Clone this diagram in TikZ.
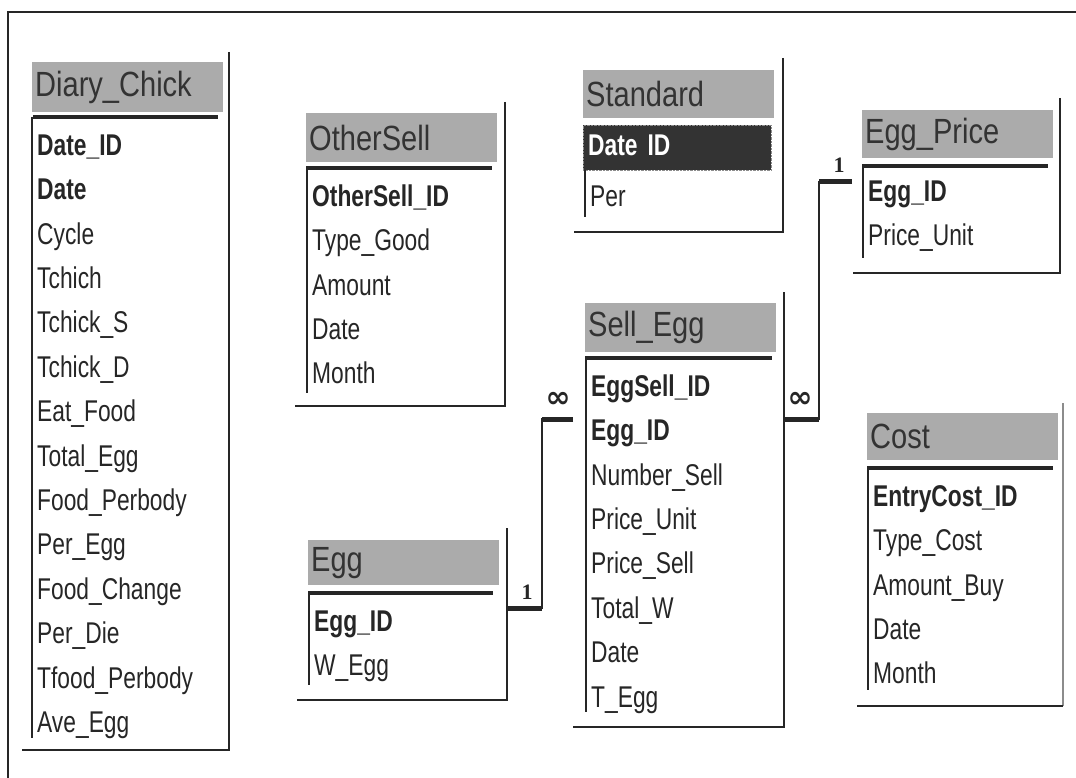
\documentclass[tikz,border=0pt]{standalone}
\usepackage{fontspec}
\setmainfont[FakeStretch=0.76]{Liberation Sans}
\newfontfamily\ttlfont[FakeStretch=0.83]{Liberation Sans}
\newfontfamily\symfont{DejaVu Sans}
\newfontfamily\numfont{Liberation Serif}
\usepackage{xcolor}
\usetikzlibrary{positioning}

\begin{document}
\begin{tikzpicture}[
  x=1pt, y=-1pt,
  ttl/.style  ={anchor=north west, fill=black!33, minimum height=48pt,
                text width=185pt, inner xsep=3pt, align=left,
                font=\ttlfont\fontsize{35}{35}\selectfont, text=black!80},
  fld/.style  ={anchor=north west, text width=175pt, align=left,
                inner xsep=5pt, inner ysep=0pt, minimum height=44pt,
                text height=22pt, text depth=6pt,
                font=\fontsize{30}{32}\selectfont, text=black!85},
  key/.style  ={fld, font=\fontsize{30}{32}\selectfont\bfseries},
  edge/.style ={draw=black!85, line width=2.4pt},
  rule/.style ={draw=black!85, line width=3.4pt},
  side/.style ={draw=black!85, line width=1.8pt},
  rel/.style  ={draw=black!85, line width=1.8pt},
  bar/.style  ={draw=black!85, line width=5pt},
  card/.style ={font=\numfont\fontsize{22}{22}\selectfont\bfseries, text=black!85},
  many/.style ={font=\symfont\fontsize{30}{30}\selectfont\bfseries, text=black!85}
]
\useasboundingbox (0,0) rectangle (1076,778);
% outer frame
\draw[side] (8,778) -- (8,12) -- (1076,12);

% Diary_Chick
\node[ttl, minimum height=50pt] (dc) at (32,62) {Diary\_Chick};
\node[key] (dc1) at (32,125) {Date\_ID};
\node[key, below=0pt of dc1]  (dc2)  {Date};
\node[fld, below=0pt of dc2]  (dc3)  {Cycle};
\node[fld, below=0pt of dc3]  (dc4)  {Tchich};
\node[fld, below=0pt of dc4]  (dc5)  {Tchick\_S};
\node[fld, below=0pt of dc5]  (dc6)  {Tchick\_D};
\node[fld, below=0pt of dc6]  (dc7)  {Eat\_Food};
\node[fld, below=0pt of dc7]  (dc8)  {Total\_Egg};
\node[fld, below=0pt of dc8]  (dc9)  {Food\_Perbody};
\node[fld, below=0pt of dc9]  (dc10) {Per\_Egg};
\node[fld, below=0pt of dc10] (dc11) {Food\_Change};
\node[fld, below=0pt of dc11] (dc12) {Per\_Die};
\node[fld, below=0pt of dc12] (dc13) {Tfood\_Perbody};
\node[fld, below=0pt of dc13] (dc14) {Ave\_Egg};
\draw[edge] (229,52) -- (229,750) -- (22,750);
\draw[rule] (33,117) -- (218,117);
\draw[side] (32,117) -- (32,738);

% OtherSell
\node[ttl, minimum height=49pt] (os) at (306,113) {OtherSell};
\node[key] (os1) at (307,176) {OtherSell\_ID};
\node[fld, below=0pt of os1] (os2) {Type\_Good};
\node[fld, below=0pt of os2] (os3) {Amount};
\node[fld, below=0pt of os3] (os4) {Date};
\node[fld, below=0pt of os4] (os5) {Month};
\draw[edge] (505,102) -- (505,406) -- (295,406);
\draw[rule] (306,168) -- (492,168);
\draw[side] (307,168) -- (307,393);

% Standard
\node[ttl] (st) at (583,70) {Standard};
\node[key, text width=178pt, minimum height=45pt, fill=black!80, text=white,
      draw=black!45, densely dotted] (st1) at (583,125) {Date ID};
\node[fld] (st2) at (585,176) {Per};
\draw[edge] (783,58) -- (783,232) -- (574,232);
\draw[side] (585,170) -- (585,217);

% Sell_Egg
\node[ttl, minimum height=49pt] (se) at (585,303) {Sell\_Egg};
\node[key] (se1) at (586,366) {EggSell\_ID};
\node[key, below=0pt of se1] (se2) {Egg\_ID};
\node[fld, below=0pt of se2] (se3) {Number\_Sell};
\node[fld, below=0pt of se3] (se4) {Price\_Unit};
\node[fld, below=0pt of se4] (se5) {Price\_Sell};
\node[fld, below=0pt of se5] (se6) {Total\_W};
\node[fld, below=0pt of se6] (se7) {Date};
\node[fld, below=0pt of se7] (se8) {T\_Egg};
\draw[edge] (784,292) -- (784,727) -- (573,727);
\draw[rule] (585,358) -- (772,358);
\draw[side] (586,358) -- (586,712);

% Egg
\node[ttl, minimum height=45pt] (eg) at (308,540) {Egg};
\node[key] (eg1) at (309,601) {Egg\_ID};
\node[fld, below=0pt of eg1] (eg2) {W\_Egg};
\draw[edge] (507,528) -- (507,700) -- (297,700);
\draw[rule] (308,593) -- (493,593);
\draw[side] (309,593) -- (309,685);

% Egg_Price
\node[ttl] (ep) at (862,110) {Egg\_Price};
\node[key] (ep1) at (863,171) {Egg\_ID};
\node[fld, below=0pt of ep1] (ep2) {Price\_Unit};
\draw[edge] (1060,98) -- (1060,273) -- (853,273);
\draw[rule] (862,166) -- (1048,166);
\draw[side] (863,166) -- (863,258);

% Cost
\node[ttl, minimum height=47pt] (co) at (867,413) {Cost};
\node[key] (co1) at (868,476) {EntryCost\_ID};
\node[fld, below=0pt of co1] (co2) {Type\_Cost};
\node[fld, below=0pt of co2] (co3) {Amount\_Buy};
\node[fld, below=0pt of co3] (co4) {Date};
\node[fld, below=0pt of co4] (co5) {Month};
\draw[edge, draw=black!45] (1063,403) -- (1063,706);
\draw[edge] (1063,706) -- (857,706);
\draw[rule] (867,468) -- (1053,468);
\draw[side] (868,468) -- (868,690);

% relationships
\coordinate (eggR)  at (507,608);
\coordinate (sellL) at (573,419);
\coordinate (sellR) at (784,419);
\coordinate (priceL) at (852,182);
\draw[rel] (eggR) -- ++(35,0) |- (sellL);
\draw[bar] (eggR) -- ++(35,0);
\draw[bar] (sellL) -- ++(-31,0);
\node[card] (c1) at (527,592) {1};
\node[many] (m1) at (558,400) {∞};
\draw[rel] (sellR) -- ++(35,0) |- (priceL);
\draw[bar] (sellR) -- ++(35,0);
\draw[bar] (priceL) -- ++(-33,0);
\node[many] (m2) at (800,400) {∞};
\node[card] (c2) at (839,165) {1};
\end{tikzpicture}
\end{document}
